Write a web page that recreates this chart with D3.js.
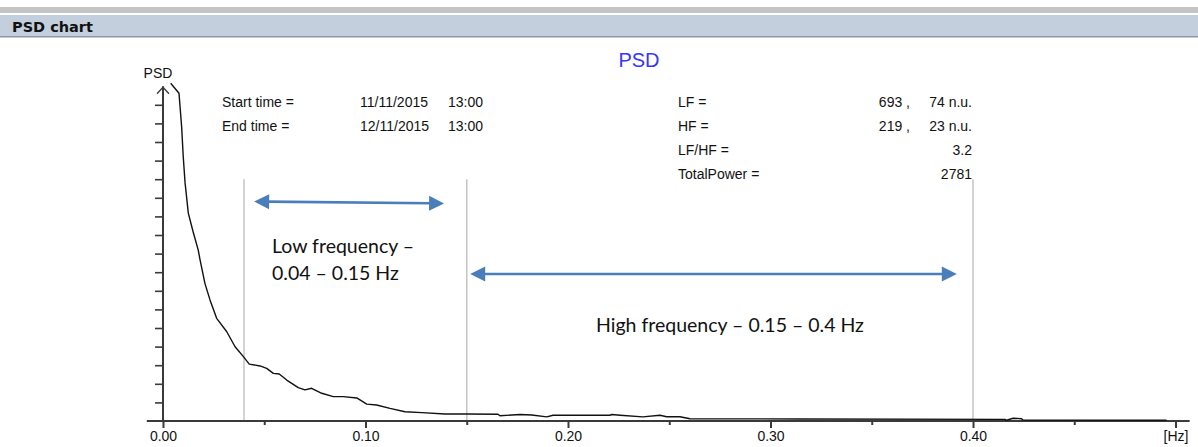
<!DOCTYPE html>
<html>
<head>
<meta charset="utf-8">
<script src="https://cdn.jsdelivr.net/npm/d3@7"></script>
<style>
  html, body { margin: 0; padding: 0; background: #fff; }
  svg { display: block; }
  .sys { font-family: "Liberation Sans", Arial, sans-serif; font-size: 14px; fill: #111; }
  .note { font-family: Lato, "Open Sans", sans-serif; font-size: 19.5px; fill: #111; }
</style>
</head>
<body>
<svg id="chart" width="1198" height="447"></svg>
<script>
// Power spectral density curve (frequency in Hz, PSD in axis units)
const freqHz = [0.0038, 0.0079, 0.0092, 0.0100, 0.0109, 0.0125, 0.0148, 0.0174, 0.0183, 0.0207,
  0.0232, 0.0265, 0.0315, 0.0356, 0.0397, 0.0426, 0.0479, 0.0512, 0.0545, 0.0574,
  0.0611, 0.0668, 0.0701, 0.0734, 0.0784, 0.0841, 0.0890, 0.0957, 0.1006, 0.1055,
  0.1121, 0.1195, 0.1278, 0.1393, 0.1500, 0.1654, 0.1664, 0.1763, 0.1821, 0.1895,
  0.1926, 0.2207, 0.2217, 0.2257, 0.2370, 0.2454, 0.2487, 0.2553, 0.2602, 0.3146,
  0.4158, 0.4166, 0.4198, 0.4240, 0.4247, 0.4956];
const psdValues = [18.16, 17.62, 15.82, 14.21, 12.80, 11.18, 10.20, 9.19, 8.66, 7.40,
  6.51, 5.52, 4.80, 3.99, 3.46, 3.06, 2.96, 2.83, 2.56, 2.53,
  2.20, 1.79, 1.67, 1.76, 1.49, 1.31, 1.31, 1.24, 0.91, 0.86,
  0.68, 0.50, 0.45, 0.38, 0.38, 0.36, 0.28, 0.35, 0.32, 0.22,
  0.31, 0.31, 0.35, 0.31, 0.22, 0.31, 0.23, 0.23, 0.12, 0.11,
  0.09, 0.04, 0.15, 0.12, 0.05, 0.04];

// Axis ticks
const xTickValues = [0, 0.05, 0.10, 0.15, 0.20, 0.25, 0.30, 0.35, 0.40, 0.45, 0.50];
const xTickLabels = ["0.00", "", "0.10", "", "0.20", "", "0.30", "", "0.40", "", "[Hz]"];
const yTickValues = d3.range(1, 18);

// Band limits (Hz) and the band height the guides reach
const bandLimits = [0.04, 0.15, 0.40];
const guideTop = 13;

// Summary statistics
const infoLeftLabels = ["Start time =", "End time ="];
const infoLeftDates = ["11/11/2015", "12/11/2015"];
const infoLeftTimes = ["13:00", "13:00"];
const infoRightLabels = ["LF =", "HF =", "LF/HF =", "TotalPower ="];
const infoRightAbs = ["693 ,", "219 ,", "", ""];
const infoRightValues = ["74 n.u.", "23 n.u.", "3.2", "2781"];

// Band annotations: [from Hz, to Hz, level at start, level at end]
const lowBandArrow = [0.0450, 0.1388, 11.8, 11.7];
const highBandArrow = [0.1517, 0.3920, 7.9, 7.9];

const svg = d3.select("#chart");
const W = 1198;

const x = d3.scaleLinear().domain([0, 0.5]).range([163, 1175.5]);
const y = d3.scaleLinear().domain([0, 18]).range([421, 86.2]);

// Window header
svg.append("rect").attr("x", 0).attr("y", 7).attr("width", W).attr("height", 6).attr("fill", "#c4c4c4");
svg.append("rect").attr("x", 0).attr("y", 15).attr("width", W).attr("height", 21).attr("fill", "#c3cfdc");
svg.append("rect").attr("x", 0).attr("y", 36).attr("width", W).attr("height", 1.5).attr("fill", "#8d98a4");
svg.append("text").attr("x", 12).attr("y", 31.5)
  .style("font-family", "'DejaVu Sans', Verdana, sans-serif").style("font-weight", "bold")
  .style("font-size", "14.5px").attr("fill", "#111").text("PSD chart");

// Title
svg.append("text").attr("x", 639).attr("y", 67).attr("text-anchor", "middle")
  .style("font-family", "'Liberation Sans', Arial, sans-serif").style("font-size", "20px")
  .attr("fill", "#3535ff").text("PSD");

// Band guide lines
svg.append("g").selectAll("line").data(bandLimits).join("line")
  .attr("x1", d => x(d)).attr("x2", d => x(d))
  .attr("y1", y(0)).attr("y2", y(guideTop))
  .attr("stroke", "#c4c4c4").attr("stroke-width", 1.5);

// X axis
const xAxis = d3.axisBottom(x).tickValues(xTickValues)
  .tickFormat((d, i) => xTickLabels[i]).tickSizeOuter(0);
const gx = svg.append("g").attr("transform", `translate(0,${y(0)})`).call(xAxis);
gx.select(".domain").remove();
gx.selectAll(".tick line")
  .attr("y2", (d, i) => i % 2 === 0 ? 7 : 4)
  .attr("stroke", "#3a3a3a").attr("stroke-width", 2);
gx.selectAll(".tick text")
  .attr("y", 10)
  .style("font-family", "'Liberation Sans', Arial, sans-serif").style("font-size", "14px")
  .attr("fill", "#111");
svg.append("line")
  .attr("x1", x(-0.008)).attr("x2", x(0.507))
  .attr("y1", y(0)).attr("y2", y(0))
  .attr("stroke", "#3a3a3a").attr("stroke-width", 2);

// Y axis with arrow head
const yAxis = d3.axisLeft(y).tickValues(yTickValues).tickFormat("").tickSize(8).tickSizeOuter(0);
const gy = svg.append("g").attr("transform", `translate(${x(0)},0)`).call(yAxis);
gy.select(".domain").remove();
gy.selectAll(".tick line").attr("stroke", "#3a3a3a").attr("stroke-width", 1.6);
svg.append("line")
  .attr("x1", x(0)).attr("x2", x(0)).attr("y1", y(0)).attr("y2", y(18))
  .attr("stroke", "#3a3a3a").attr("stroke-width", 2);
svg.append("path")
  .attr("d", `M${x(0) - 6},${y(18) + 7.5}L${x(0)},${y(18) + 1}L${x(0) + 6},${y(18) + 7.5}`)
  .attr("fill", "none").attr("stroke", "#3a3a3a").attr("stroke-width", 1.3);
svg.append("text").attr("x", x(0) - 5).attr("y", 78).attr("text-anchor", "middle")
  .attr("class", "sys").text("PSD");

// PSD curve
const points = freqHz.map((f, i) => [f, psdValues[i]]);
svg.append("path").datum(points)
  .attr("d", d3.line().x(d => x(d[0])).y(d => y(d[1])))
  .attr("fill", "none").attr("stroke", "#111").attr("stroke-width", 1.4)
  .attr("stroke-linejoin", "round");

// Summary text blocks
const rowY = i => 106.5 + i * 24.3;
const left = svg.append("g").attr("class", "sys");
infoLeftLabels.forEach((t, i) => {
  left.append("text").attr("x", 222).attr("y", rowY(i)).text(t);
  left.append("text").attr("x", 360).attr("y", rowY(i)).text(infoLeftDates[i]);
  left.append("text").attr("x", 448).attr("y", rowY(i)).text(infoLeftTimes[i]);
});
const right = svg.append("g").attr("class", "sys");
infoRightLabels.forEach((t, i) => {
  right.append("text").attr("x", 678).attr("y", rowY(i)).text(t);
  if (infoRightAbs[i]) right.append("text").attr("x", 910).attr("y", rowY(i)).attr("text-anchor", "end").text(infoRightAbs[i]);
  right.append("text").attr("x", 972).attr("y", rowY(i)).attr("text-anchor", "end").text(infoRightValues[i]);
});

// Double-headed band arrows
const arrowColor = "#4a7ebb";
function bandArrow([f0, f1, v0, v1]) {
  const x0 = x(f0), x1 = x(f1), y0 = y(v0), y1 = y(v1);
  const ang = Math.atan2(y1 - y0, x1 - x0);
  const L = 15, H = 7.5;
  const g = svg.append("g");
  const ux = Math.cos(ang), uy = Math.sin(ang), nx = -uy, ny = ux;
  g.append("line")
    .attr("x1", x0 + ux * (L - 2)).attr("y1", y0 + uy * (L - 2))
    .attr("x2", x1 - ux * (L - 2)).attr("y2", y1 - uy * (L - 2))
    .attr("stroke", arrowColor).attr("stroke-width", 2.6);
  const head = (px, py, dir) => {
    const bx = px - dir * ux * L, by = py - dir * uy * L;
    return `M${px},${py}L${bx + nx * H},${by + ny * H}L${bx - nx * H},${by - ny * H}Z`;
  };
  g.append("path").attr("d", head(x0, y0, -1)).attr("fill", arrowColor);
  g.append("path").attr("d", head(x1, y1, 1)).attr("fill", arrowColor);
}
bandArrow(lowBandArrow);
bandArrow(highBandArrow);

// Band annotations
svg.append("text").attr("class", "note").attr("x", 272).attr("y", 253).text("Low frequency –");
svg.append("text").attr("class", "note").attr("x", 272).attr("y", 280).text("0.04 – 0.15 Hz");
svg.append("text").attr("class", "note").attr("x", 596).attr("y", 332).text("High frequency – 0.15 – 0.4 Hz");
</script>
</body>
</html>
